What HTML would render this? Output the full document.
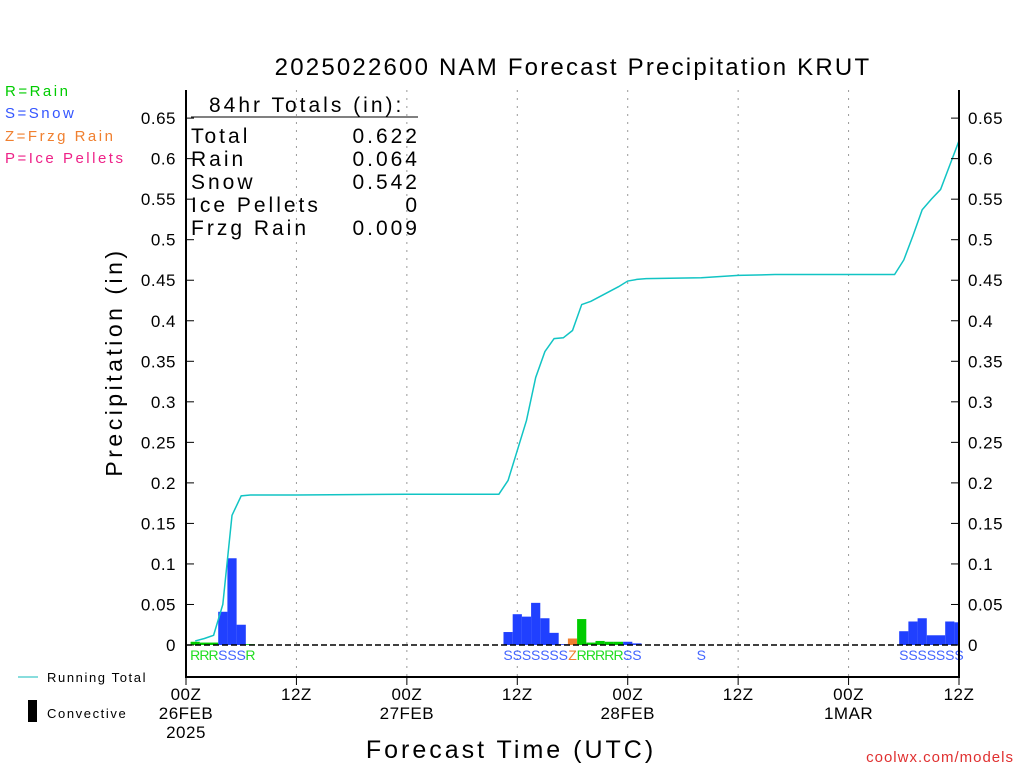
<!DOCTYPE html>
<html><head><meta charset="utf-8"><style>
body{margin:0;background:#fff;}
svg{display:block;font-family:"Liberation Sans",sans-serif;}
</style></head><body>
<svg id="chart" width="1024" height="768" xmlns="http://www.w3.org/2000/svg">
<text x="573" y="75" font-size="24" text-anchor="middle" fill="#000" letter-spacing="2.2">2025022600 NAM Forecast Precipitation KRUT</text>
<g font-size="15" letter-spacing="2.5">
<text x="5" y="96" fill="#00cc00">R=Rain</text>
<text x="5" y="118" fill="#3355ff">S=Snow</text>
<text x="5" y="141" fill="#f08030">Z=Frzg Rain</text>
<text x="5" y="163" fill="#ee2288">P=Ice Pellets</text>
</g>
<text transform="translate(122,362) rotate(-90)" font-size="23" text-anchor="middle" letter-spacing="3.5">Precipitation (in)</text>
<text x="511" y="758" font-size="25" text-anchor="middle" letter-spacing="3">Forecast Time (UTC)</text>
<text x="1014" y="762" font-size="15" text-anchor="end" fill="#e03030" letter-spacing="1">coolwx.com/models</text>
<line x1="18" y1="677" x2="38" y2="677" stroke="#11bbbb"/>
<text x="47" y="682" font-size="13" letter-spacing="1.6">Running Total</text>
<rect x="28" y="700" width="9" height="22" fill="#000"/>
<text x="47" y="718" font-size="13" letter-spacing="1.6">Convective</text>
<g id="plot"></g>
<g font-size="21" fill="#000" letter-spacing="3">
<text x="209" y="112">84hr Totals (in):</text>
<line x1="191" y1="117" x2="418" y2="117" stroke="#000"/>
<text x="191" y="143">Total</text><text x="420" y="143" text-anchor="end">0.622</text>
<text x="191" y="166">Rain</text><text x="420" y="166" text-anchor="end">0.064</text>
<text x="191" y="189">Snow</text><text x="420" y="189" text-anchor="end">0.542</text>
<text x="191" y="212">Ice Pellets</text><text x="420" y="212" text-anchor="end">0</text>
<text x="191" y="235">Frzg Rain</text><text x="420" y="235" text-anchor="end">0.009</text>
</g>
</svg>
<script>
const hours=[1,2,3,4,5,6,7,35,36,37,38,39,40,41,42,43,44,45,46,47,48,49,56,78,79,80,81,82,83,84];
const amounts=[0.004,0.003,0.003,0.041,0.107,0.025,0.001,0.016,0.038,0.035,0.052,0.033,0.015,0.001,0.008,0.032,0.003,0.005,0.004,0.004,0.004,0.002,0,0.017,0.029,0.033,0.012,0.012,0.029,0.028];
const ptypes=["R","R","R","S","S","S","R","S","S","S","S","S","S","S","Z","R","R","R","R","R","S","S","S","S","S","S","S","S","S","S"];
const totalHours=[1,2,3,4,5,6,7,12,24,34,35,36,37,38,39,40,41,42,43,44,45,46,47,48,49,50,56,60,64,77,78,79,80,81,82,83,84];
const totalValues=[0.005,0.008,0.012,0.05,0.16,0.184,0.185,0.185,0.186,0.186,0.203,0.24,0.277,0.33,0.362,0.378,0.379,0.388,0.42,0.424,0.43,0.436,0.442,0.449,0.451,0.452,0.453,0.456,0.457,0.457,0.475,0.505,0.537,0.55,0.562,0.592,0.622];
const yTicks=[0,0.05,0.1,0.15,0.2,0.25,0.3,0.35,0.4,0.45,0.5,0.55,0.6,0.65];
const xTickHours=[0,12,24,36,48,60,72,84];
const xTickLabels=[["00Z","26FEB","2025"],["12Z"],["00Z","27FEB"],["12Z"],["00Z","28FEB"],["12Z"],["00Z","1MAR"],["12Z"]];
const X0=186,X1=959,Y0=645,PXIN=810.6;
const x=h=>X0+h*(X1-X0)/84;
const y=v=>Y0-v*PXIN;
const colors={R:"#00cc00",S:"#2040ff",Z:"#f08030",P:"#ee2288"};
const lblColors={R:"#22dd22",S:"#4466ff",Z:"#f08030",P:"#ee2288"};
const NS="http://www.w3.org/2000/svg";
const g=document.getElementById("plot");
function mk(t,a){const e=document.createElementNS(NS,t);for(const k in a)e.setAttribute(k,a[k]);g.appendChild(e);return e;}
xTickHours.slice(1,-1).forEach(h=>{
const e=mk("line",{x1:x(h),x2:x(h),y1:90,y2:677,stroke:"#999","stroke-dasharray":"2,6"});


});
hours.forEach((h,i)=>{
const x1=Math.max(x(h-0.5),X0),x2=Math.min(x(h+0.5),X1);
const e=mk("rect",{x:x1,y:y(amounts[i]),width:x2-x1,height:Y0-y(amounts[i]),fill:colors[ptypes[i]]});


const t=mk("text",{x:x(h),y:660,"font-size":14,"text-anchor":"middle",fill:lblColors[ptypes[i]]});
t.textContent=ptypes[i];


});
const z=mk("line",{x1:X0,x2:X1,y1:Y0,y2:Y0,stroke:"#000","stroke-dasharray":"6,3","stroke-width":1.5});


const pl=mk("polyline",{points:totalHours.map((h,i)=>x(h)+","+y(totalValues[i])).join(" "),fill:"none",stroke:"#11c4c4","stroke-width":1.5});


const ax=mk("path",{d:`M${X0},90 V677 H${X1} V90`,fill:"none",stroke:"#000","stroke-width":2});


yTicks.forEach(v=>{
mk("line",{x1:X0,x2:X0+8,y1:y(v),y2:y(v),stroke:"#000"});
mk("line",{x1:X1-8,x2:X1,y1:y(v),y2:y(v),stroke:"#000"});
const l=mk("text",{x:176,y:y(v)+6,"font-size":17,"text-anchor":"end","letter-spacing":0.5});l.textContent=String(v);


const r=mk("text",{x:968,y:y(v)+6,"font-size":17,"letter-spacing":0.5});r.textContent=String(v);


});
xTickHours.forEach((h,i)=>{
mk("line",{x1:x(h),x2:x(h),y1:677,y2:685,stroke:"#000"});
xTickLabels[i].forEach((s,j)=>{
const t=mk("text",{x:x(h),y:700+j*19,"font-size":17,"text-anchor":"middle","letter-spacing":0.5});t.textContent=s;


});
});
</script>
</body></html>
